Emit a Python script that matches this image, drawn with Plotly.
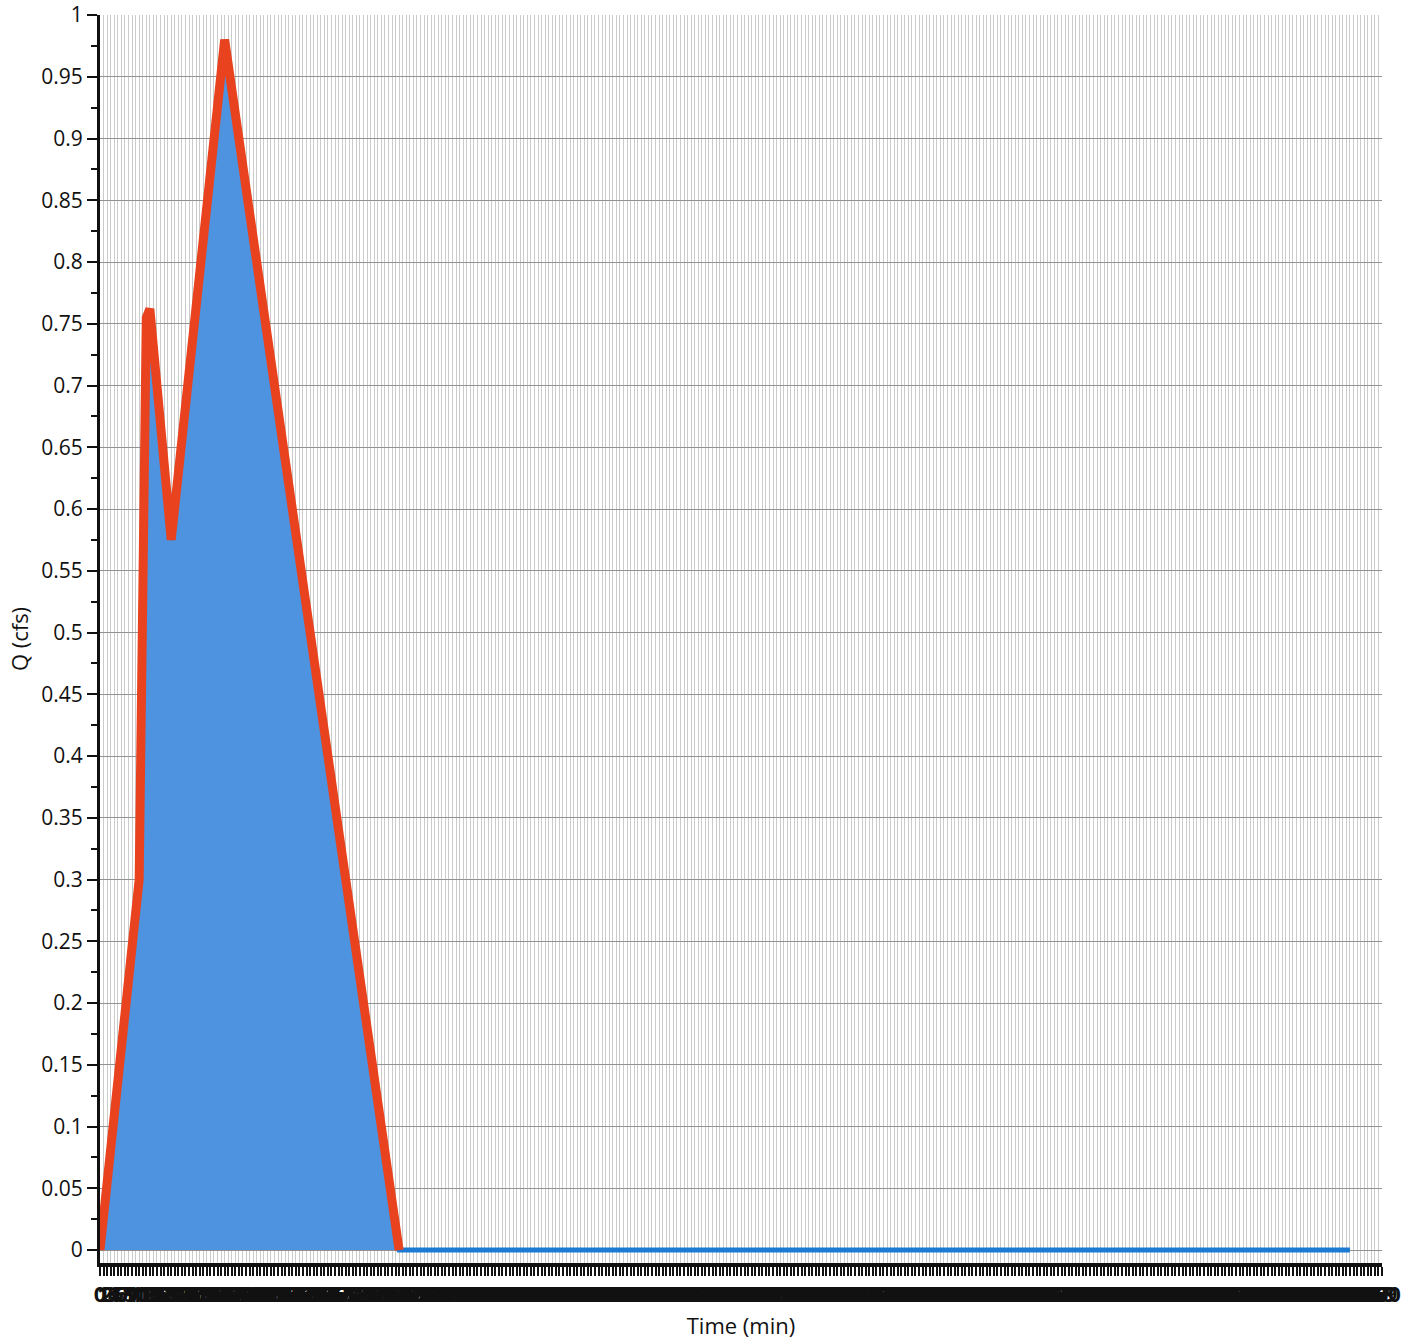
import plotly.graph_objects as go

# Runoff hydrograph: time (min) vs discharge Q (cfs)
time_min = [0, 11, 13, 14, 20, 35, 84, 351]
q_cfs = [0.0, 0.30, 0.755, 0.762, 0.575, 0.98, 0.0, 0.0]

# Hydrograph vertices drawn as the red outline (rising and falling limbs)
peak_time_min = [0, 11, 13, 14, 20, 35, 84]
peak_q_cfs = [0.0, 0.30, 0.755, 0.762, 0.575, 0.98, 0.0]

# Axis labels: one category per minute on the time axis
time_ticks = list(range(0, 361))
time_tick_text = [str(t) for t in time_ticks]
q_ticks = [round(0.05 * k, 2) for k in range(0, 21)]
q_tick_text = [("%g" % v) for v in q_ticks]

FONT = "Open Sans, Segoe UI, DejaVu Sans, sans-serif"

fig = go.Figure()

fig.add_trace(go.Scatter(
    x=time_min, y=q_cfs,
    mode="lines",
    fill="tozeroy",
    fillcolor="#4d93e0",
    line=dict(color="#1d7ad3", width=5),
    showlegend=False,
    hoverinfo="skip",
))

fig.add_trace(go.Scatter(
    x=peak_time_min, y=peak_q_cfs,
    mode="lines",
    line=dict(color="#e8431e", width=9),
    showlegend=False,
    hoverinfo="skip",
))

fig.update_layout(
    width=1405, height=1340,
    margin=dict(l=100, r=23, t=15, b=77),
    paper_bgcolor="white",
    plot_bgcolor="white",
    font=dict(family=FONT, size=21, color="#111111"),
)

fig.update_xaxes(
    automargin=False,
    range=[0, 360],
    tickmode="array",
    tickvals=time_ticks,
    ticktext=time_tick_text,
    tickangle=0,
    ticks="outside",
    ticklen=9,
    tickwidth=2,
    tickcolor="#111111",
    tickfont=dict(family=FONT, size=22, color="#111111", weight="bold"),
    showline=True,
    linecolor="#111111",
    linewidth=4,
    showgrid=True,
    gridcolor="#cbcbcb",
    gridwidth=1,
    zeroline=False,
    title=dict(text="Time (min)", font=dict(family=FONT, size=22, color="#111111"), standoff=14),
)

fig.update_yaxes(
    automargin=False,
    range=[-0.0105, 1.0],
    tickmode="array",
    tickvals=q_ticks,
    ticktext=q_tick_text,
    ticks="outside",
    ticklen=10,
    tickwidth=2,
    tickcolor="#111111",
    tickfont=dict(family=FONT, size=21, color="#111111"),
    showline=True,
    linecolor="#111111",
    linewidth=3,
    showgrid=True,
    gridcolor="#929292",
    gridwidth=1,
    zeroline=False,
    minor=dict(ticks="outside", ticklen=6, tickwidth=2, tickcolor="#111111", dtick=0.025, tick0=0, showgrid=False),
    title=dict(text="Q (cfs)", font=dict(family=FONT, size=22, color="#111111"), standoff=7),
)

fig.write_html("out.html")
